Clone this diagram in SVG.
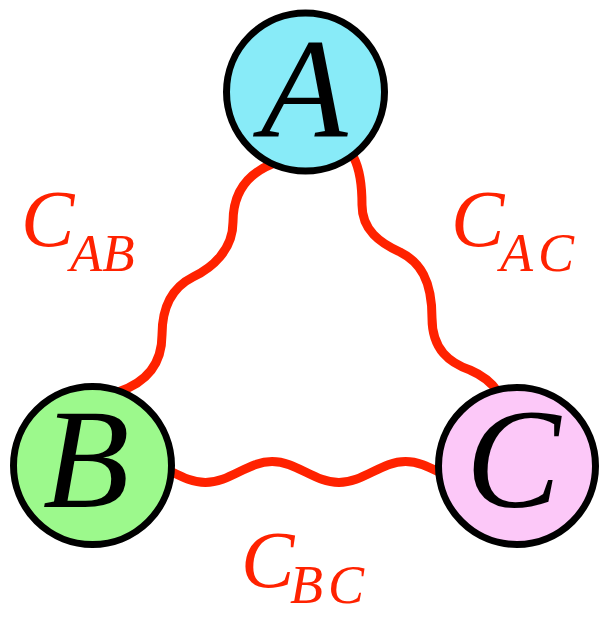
<svg xmlns="http://www.w3.org/2000/svg" width="601" height="617" viewBox="0 0 601 617">
<style>
.wave{fill:none;stroke:#FF2200;stroke-width:9;stroke-linecap:round}
.node{stroke:#000;stroke-width:7}
.nl{font-family:"Liberation Serif","Times New Roman",serif;font-style:italic;font-size:142px;fill:#000;text-anchor:middle}
.lbl{font-family:"Liberation Serif","Times New Roman",serif;font-style:italic;font-size:80px;fill:#FF2200}
.sub{font-size:53px}
.subw{font-size:54px;letter-spacing:5px}
</style>
<rect width="601" height="617" fill="#fff"/>
<g id="connectors">
<path class="wave" d="M272,164 C245,175 233,195 233,222 C233,250 212,268 193,277 C173,287 162,305 162,335 C162,365 145,383 118,392"/>
<path class="wave" d="M354,158 C360,170 362,185 362,205 C362,230 380,243 400,252 C420,262 432,280 432,318 C432,350 450,363 470,370 C484,376 492,383 498,392"/>
<path class="wave" d="M172,472 C182.9,477.4 193.3,482.5 205.4,482.5 C217.5,482.5 227.9,477.4 238.8,472 C249.7,466.6 260,461.5 272.1,461.5 C284.2,461.5 294.6,466.6 305.5,472 C316.4,477.4 326.8,482.5 338.9,482.5 C351,482.5 361.4,477.4 372.3,472 C383.2,466.6 393.5,461.5 405.6,461.5 C417.7,461.5 428.1,466.6 439,472"/>
</g>
<g id="nodeA">
<circle class="node" cx="305.5" cy="92" r="79" fill="#88EBF8"/>
<text class="nl" x="304" y="136">A</text>
</g>
<g id="nodeB">
<circle class="node" cx="92.5" cy="465.5" r="79" fill="#9CF98C"/>
<text class="nl" x="86" y="507">B</text>
</g>
<g id="nodeC">
<circle class="node" cx="517" cy="466" r="78.5" fill="#FCC8F8"/>
<text class="nl" x="513" y="507">C</text>
</g>
<g id="labels">
<text class="lbl" x="21" y="246">C<tspan class="sub" x="70" y="271">AB</tspan></text>
<text class="lbl" x="451" y="246">C<tspan class="subw" x="500" y="271">AC</tspan></text>
<text class="lbl" x="241" y="587">C<tspan class="subw" x="290" y="603">BC</tspan></text>
</g>
</svg>
